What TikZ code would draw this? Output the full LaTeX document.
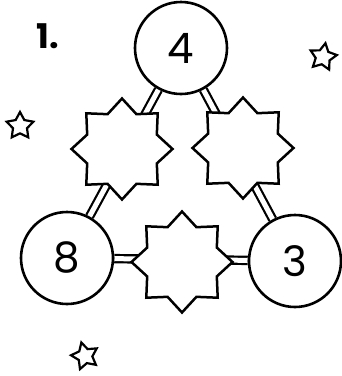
\documentclass[tikz,border=0pt]{standalone}
\usepackage{fontspec}
\setmainfont{Poppins}
\usetikzlibrary{shapes.geometric,backgrounds}
\begin{document}
\begin{tikzpicture}[x=1pt,y=-1pt,
  numcircle/.style={circle,draw,line width=2.6pt,fill=white,minimum size=92pt,inner sep=0pt,font=\fontsize{42}{42}\selectfont},
  bigstar/.style={star,star points=8,star point ratio=1.34,draw,line width=2.5pt,fill=white,minimum size=101pt,inner sep=0pt},
  smallstar/.style={star,star points=5,star point ratio=1.9,draw,line width=2.2pt,minimum size=28pt,inner sep=0pt},
  link/.style={double,double distance=5pt,line width=2.2pt}]
\useasboundingbox (0,0) rectangle (342,376);
\node[font=\bfseries\fontsize{34}{34}\selectfont] (num) at (48,36) {1.};
\node[numcircle] (c4) at (181,48) {4};
\node[numcircle] (c8) at (67,258) {8};
\node[numcircle] (c3) at (295,261) {3};
\node[bigstar] (sl) at (122,149) {};
\node[bigstar] (sr) at (243,148) {};
\node[bigstar] (sb) at (182,262) {};
\node[smallstar,rotate=-10] (s1) at (323,57) {};
\node[smallstar] (s2) at (20,126) {};
\node[smallstar,rotate=15] (s3) at (85,356) {};
\begin{pgfonlayer}{background}
\draw[link] (c4) -- (c8);
\draw[link] (c4) -- (c3);
\draw[link] (c8) -- (c3);
\end{pgfonlayer}
\end{tikzpicture}
\end{document}
